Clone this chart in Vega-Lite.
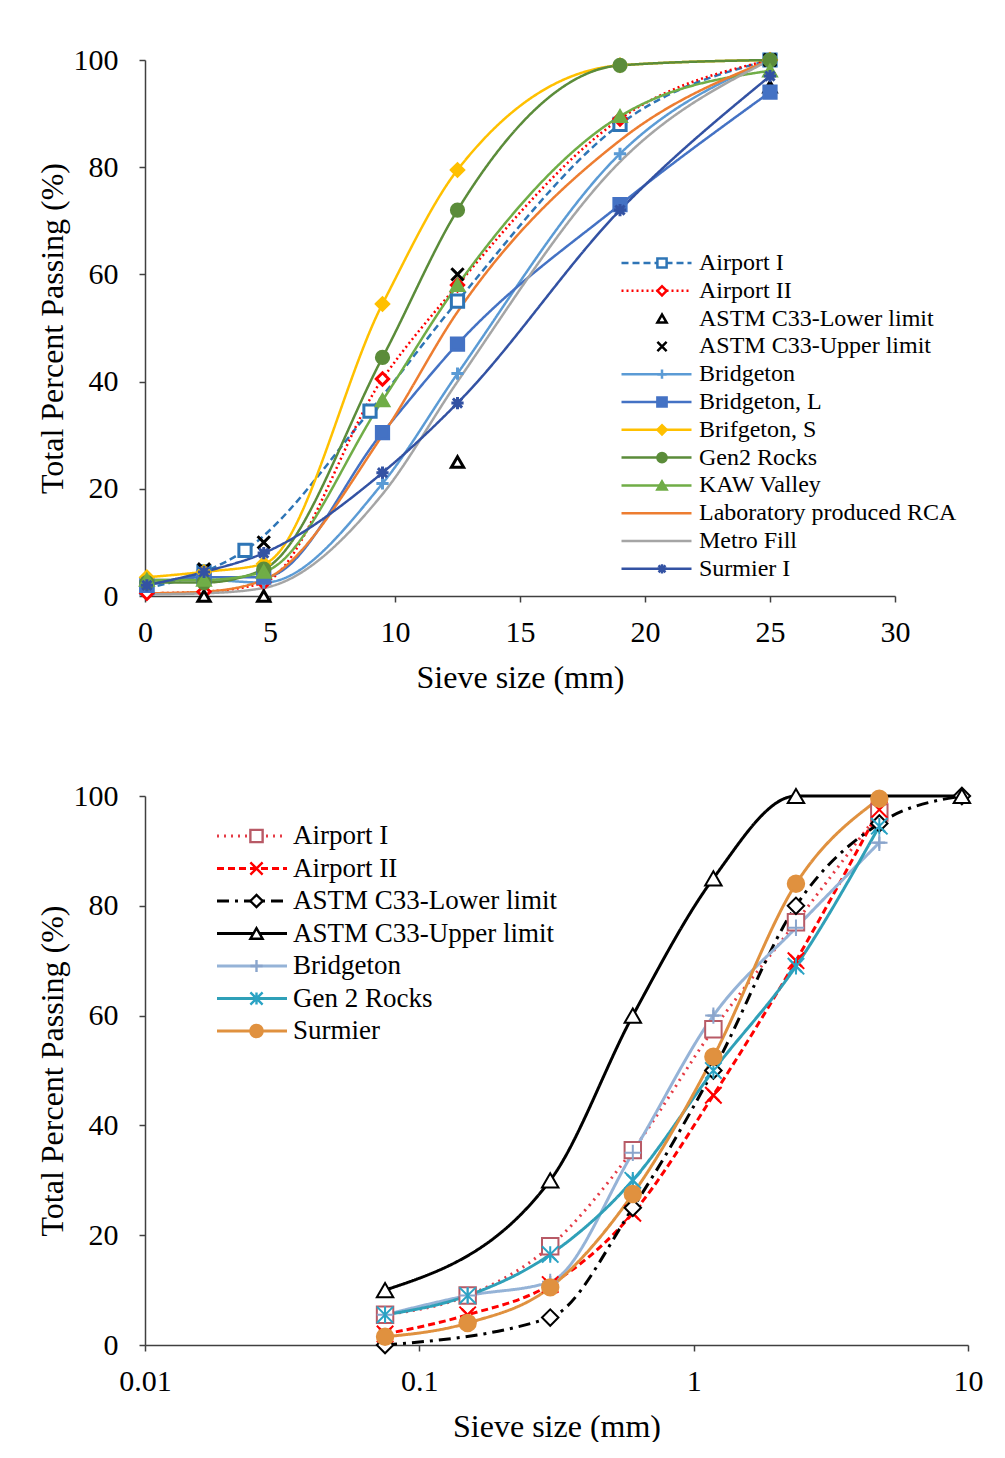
{
  "$schema": "https://vega.github.io/schema/vega-lite/v6.json",
  "background": "white",
  "padding": {"left": 36, "top": 45, "right": 0, "bottom": 0},
  "spacing": 88,
  "resolve": {"scale": {"color": "independent", "strokeDash": "independent", "shape": "independent", "fill": "independent", "stroke": "independent"}},
  "config": {
    "font": "Liberation Serif",
    "view": {"stroke": null},
    "axis": {"grid": false, "domainColor": "#404040", "domainWidth": 1.5, "tickColor": "#404040", "tickWidth": 1.5, "tickSize": 6, "labelFont": "Liberation Serif", "labelFontSize": 30, "labelColor": "#000", "titleFont": "Liberation Serif", "titleFontSize": 32, "titleFontWeight": "normal", "titleColor": "#000"},
    "axisX": {"labelPadding": 15, "titlePadding": 15, "labelFlush": false},
    "axisY": {"labelPadding": 21, "titlePadding": 4},
    "legend": {"labelFont": "Liberation Serif", "labelColor": "#000", "labelLimit": 500}
  },
  "vconcat": [
    {
      "width": 750,
      "height": 536,
      "data": {"name": "top"},
      "encoding": {
        "x": {"field": "size", "type": "quantitative", "scale": {"domain": [0, 30], "nice": false}, "axis": {"values": [0, 5, 10, 15, 20, 25, 30], "title": "Sieve size (mm)"}},
        "y": {"field": "pct", "type": "quantitative", "scale": {"domain": [0, 100], "nice": false}, "axis": {"values": [0, 20, 40, 60, 80, 100], "title": "Total Percent Passing (%)"}}
      },
      "layer": [
        {
          "mark": {"type": "line", "interpolate": "monotone", "strokeWidth": 2.5},
          "encoding": {
            "color": {"field": "series", "type": "nominal",
              "scale": {"domain": ["Airport I", "Airport II", "ASTM C33-Lower limit", "ASTM C33-Upper limit", "Bridgeton", "Bridgeton, L", "Brifgeton, S", "Gen2 Rocks", "KAW Valley", "Laboratory produced RCA", "Metro Fill", "Surmier I"],
                "range": ["#2E75B6", "#FF0000", "transparent", "transparent", "#5B9BD5", "#4472C4", "#FFC000", "#5B8C3A", "#70AD47", "#ED7D31", "#A5A5A5", "#3352A3"]},
              "legend": {"orient": "none", "legendX": 475, "legendY": 192, "title": null, "symbolType": "stroke", "symbolSize": 4900, "symbolStrokeWidth": 2.5, "labelFontSize": 24, "labelOffset": 6, "clipHeight": 22, "rowPadding": 3.8}},
            "strokeDash": {"field": "series", "type": "nominal",
              "scale": {"domain": ["Airport I", "Airport II", "ASTM C33-Lower limit", "ASTM C33-Upper limit", "Bridgeton", "Bridgeton, L", "Brifgeton, S", "Gen2 Rocks", "KAW Valley", "Laboratory produced RCA", "Metro Fill", "Surmier I"],
                "range": [[7, 4], [2, 3], [1, 0], [1, 0], [1, 0], [1, 0], [1, 0], [1, 0], [1, 0], [1, 0], [1, 0], [1, 0]]}}
          }
        },
        {
          "transform": [{"not": {"field": "series", "oneOf": ["ASTM C33-Lower limit", "ASTM C33-Upper limit"]}}],
          "mark": {"type": "point", "size": 85, "strokeWidth": 2.2, "opacity": 1},
          "encoding": {
            "shape": {"field": "series", "type": "nominal",
              "scale": {"domain": ["Airport I", "Airport II", "ASTM C33-Lower limit", "ASTM C33-Upper limit", "Bridgeton", "Bridgeton, L", "Brifgeton, S", "Gen2 Rocks", "KAW Valley", "Laboratory produced RCA", "Metro Fill", "Surmier I"],
                "range": ["square", "diamond", "triangle-up", "M-1,-1L1,1M1,-1L-1,1", "M-1,0H1M0,-1V1", "square", "diamond", "circle", "triangle-up", "circle", "circle", "M-1,0H1M0,-1V1M-0.75,-0.75L0.75,0.75M-0.75,0.75L0.75,-0.75"]},
              "legend": {"orient": "none", "legendX": 475, "legendY": 192, "title": null, "symbolSize": 85, "symbolStrokeWidth": 2.5, "labelFontSize": 24, "labelExpr": "''", "clipHeight": 22, "rowPadding": 3.8, "symbolOffset": 30}},
            "fill": {"field": "series", "type": "nominal",
              "scale": {"domain": ["Airport I", "Airport II", "ASTM C33-Lower limit", "ASTM C33-Upper limit", "Bridgeton", "Bridgeton, L", "Brifgeton, S", "Gen2 Rocks", "KAW Valley", "Laboratory produced RCA", "Metro Fill", "Surmier I"],
                "range": ["white", "white", "white", "transparent", "transparent", "#4472C4", "#FFC000", "#5B8C3A", "#70AD47", "transparent", "transparent", "transparent"]}},
            "stroke": {"field": "series", "type": "nominal",
              "scale": {"domain": ["Airport I", "Airport II", "ASTM C33-Lower limit", "ASTM C33-Upper limit", "Bridgeton", "Bridgeton, L", "Brifgeton, S", "Gen2 Rocks", "KAW Valley", "Laboratory produced RCA", "Metro Fill", "Surmier I"],
                "range": ["#2E75B6", "#FF0000", "#000000", "#000000", "#5B9BD5", "#4472C4", "#FFC000", "#5B8C3A", "#70AD47", "transparent", "transparent", "#3352A3"]}}
          }
        },
        {
          "transform": [{"field": "series", "oneOf": ["ASTM C33-Lower limit", "ASTM C33-Upper limit"]}],
          "mark": {"type": "point", "size": 150, "strokeWidth": 3, "opacity": 1},
          "encoding": {
            "shape": {"field": "series", "type": "nominal", "legend": null},
            "fill": {"field": "series", "type": "nominal", "legend": null},
            "stroke": {"field": "series", "type": "nominal", "legend": null}
          }
        }
      ],
      "resolve": {"legend": {"shape": "independent", "fill": "independent", "stroke": "independent"}}
    },
    {
      "width": 823,
      "height": 549,
      "data": {"name": "bottom"},
      "encoding": {
        "x": {"field": "size", "type": "quantitative", "scale": {"type": "log", "domain": [0.01, 10], "nice": false}, "axis": {"values": [0.01, 0.1, 1, 10], "format": "~g", "title": "Sieve size (mm)"}},
        "y": {"field": "pct", "type": "quantitative", "scale": {"domain": [0, 100], "nice": false}, "axis": {"values": [0, 20, 40, 60, 80, 100], "title": "Total Percent Passing (%)"}}
      },
      "layer": [
        {
          "mark": {"type": "line", "interpolate": "monotone", "strokeWidth": 3},
          "encoding": {
            "color": {"field": "series", "type": "nominal",
              "scale": {"domain": ["Airport I", "Airport II", "ASTM C33-Lower  limit", "ASTM C33-Upper limit", "Bridgeton", "Gen 2 Rocks", "Surmier"],
                "range": ["#E53B45", "#FF0000", "#000000", "#000000", "#95B3D7", "#2FA0B8", "#E0913F"]},
              "legend": {"orient": "none", "legendX": 70, "legendY": 27, "title": null, "symbolType": "stroke", "symbolSize": 4900, "symbolStrokeWidth": 3.2, "labelFontSize": 27, "labelOffset": 4, "clipHeight": 26, "rowPadding": 5.5}},
            "strokeDash": {"field": "series", "type": "nominal",
              "scale": {"domain": ["Airport I", "Airport II", "ASTM C33-Lower  limit", "ASTM C33-Upper limit", "Bridgeton", "Gen 2 Rocks", "Surmier"],
                "range": [[2, 5], [7, 4], [12, 6, 3, 6], [1, 0], [1, 0], [1, 0], [1, 0]]}}
          }
        },
        {
          "transform": [{"not": {"field": "series", "equal": "Surmier"}}],
          "mark": {"type": "point", "size": 140, "strokeWidth": 2.2, "opacity": 1},
          "encoding": {
            "shape": {"field": "series", "type": "nominal",
              "scale": {"domain": ["Airport I", "Airport II", "ASTM C33-Lower  limit", "ASTM C33-Upper limit", "Bridgeton", "Gen 2 Rocks", "Surmier"],
                "range": ["square", "M-1,-1L1,1M1,-1L-1,1", "diamond", "triangle-up", "M-1,0H1M0,-1V1", "M-1,-1L1,1M1,-1L-1,1M0,-1V1", "circle"]},
              "legend": {"orient": "none", "legendX": 70, "legendY": 27, "title": null, "symbolSize": 150, "symbolStrokeWidth": 2.4, "labelFontSize": 27, "labelExpr": "''", "clipHeight": 26, "rowPadding": 5.5, "symbolOffset": 28}},
            "fill": {"field": "series", "type": "nominal",
              "scale": {"domain": ["Airport I", "Airport II", "ASTM C33-Lower  limit", "ASTM C33-Upper limit", "Bridgeton", "Gen 2 Rocks", "Surmier"],
                "range": ["white", "transparent", "white", "white", "transparent", "transparent", "#E0913F"]}},
            "stroke": {"field": "series", "type": "nominal",
              "scale": {"domain": ["Airport I", "Airport II", "ASTM C33-Lower  limit", "ASTM C33-Upper limit", "Bridgeton", "Gen 2 Rocks", "Surmier"],
                "range": ["#B85A66", "#FF0000", "#000000", "#000000", "#8AA5CC", "#2BA3C4", "#E0913F"]}}
          }
        },
        {
          "transform": [{"field": "series", "equal": "Surmier"}],
          "mark": {"type": "point", "size": 270, "strokeWidth": 2, "opacity": 1},
          "encoding": {
            "shape": {"field": "series", "type": "nominal", "legend": null},
            "fill": {"field": "series", "type": "nominal", "legend": null},
            "stroke": {"field": "series", "type": "nominal", "legend": null}
          }
        }
      ],
      "resolve": {"legend": {"shape": "independent", "fill": "independent", "stroke": "independent"}}
    }
  ],
  "datasets": {
    "top": [
      {"series": "Airport I", "size": 0.075, "pct": 1.5},
      {"series": "Airport I", "size": 2.36, "pct": 4.5},
      {"series": "Airport I", "size": 4.0, "pct": 8.5},
      {"series": "Airport I", "size": 9.0, "pct": 34.5},
      {"series": "Airport I", "size": 12.5, "pct": 55},
      {"series": "Airport I", "size": 19, "pct": 88},
      {"series": "Airport I", "size": 25, "pct": 100},
      {"series": "Airport II", "size": 0.075, "pct": 0.5},
      {"series": "Airport II", "size": 2.36, "pct": 0.8},
      {"series": "Airport II", "size": 4.75, "pct": 2.5},
      {"series": "Airport II", "size": 9.5, "pct": 40.5},
      {"series": "Airport II", "size": 12.5, "pct": 58},
      {"series": "Airport II", "size": 19, "pct": 89},
      {"series": "Airport II", "size": 25, "pct": 100},
      {"series": "ASTM C33-Lower limit", "size": 2.36, "pct": 0},
      {"series": "ASTM C33-Lower limit", "size": 4.75, "pct": 0},
      {"series": "ASTM C33-Lower limit", "size": 12.5, "pct": 25},
      {"series": "ASTM C33-Lower limit", "size": 25, "pct": 95},
      {"series": "ASTM C33-Upper limit", "size": 2.36, "pct": 5},
      {"series": "ASTM C33-Upper limit", "size": 4.75, "pct": 10},
      {"series": "ASTM C33-Upper limit", "size": 12.5, "pct": 60},
      {"series": "ASTM C33-Upper limit", "size": 25, "pct": 100},
      {"series": "Bridgeton", "size": 0.075, "pct": 3},
      {"series": "Bridgeton", "size": 2.36, "pct": 3},
      {"series": "Bridgeton", "size": 4.75, "pct": 2.5},
      {"series": "Bridgeton", "size": 9.5, "pct": 21},
      {"series": "Bridgeton", "size": 12.5, "pct": 41.5},
      {"series": "Bridgeton", "size": 19, "pct": 82.5},
      {"series": "Bridgeton", "size": 25, "pct": 100},
      {"series": "Bridgeton, L", "size": 0.075, "pct": 2},
      {"series": "Bridgeton, L", "size": 2.36, "pct": 3.5},
      {"series": "Bridgeton, L", "size": 4.75, "pct": 3.5},
      {"series": "Bridgeton, L", "size": 9.5, "pct": 30.5},
      {"series": "Bridgeton, L", "size": 12.5, "pct": 47},
      {"series": "Bridgeton, L", "size": 19, "pct": 73},
      {"series": "Bridgeton, L", "size": 25, "pct": 94},
      {"series": "Brifgeton, S", "size": 0.075, "pct": 3.5},
      {"series": "Brifgeton, S", "size": 2.36, "pct": 4.5},
      {"series": "Brifgeton, S", "size": 4.75, "pct": 6},
      {"series": "Brifgeton, S", "size": 9.5, "pct": 54.5},
      {"series": "Brifgeton, S", "size": 12.5, "pct": 79.5},
      {"series": "Brifgeton, S", "size": 19, "pct": 99},
      {"series": "Brifgeton, S", "size": 25, "pct": 100},
      {"series": "Gen2 Rocks", "size": 0.075, "pct": 2.5},
      {"series": "Gen2 Rocks", "size": 2.36, "pct": 2.5},
      {"series": "Gen2 Rocks", "size": 4.75, "pct": 5},
      {"series": "Gen2 Rocks", "size": 9.5, "pct": 44.5},
      {"series": "Gen2 Rocks", "size": 12.5, "pct": 72},
      {"series": "Gen2 Rocks", "size": 19, "pct": 99},
      {"series": "Gen2 Rocks", "size": 25, "pct": 100},
      {"series": "KAW Valley", "size": 0.075, "pct": 3},
      {"series": "KAW Valley", "size": 2.36, "pct": 3},
      {"series": "KAW Valley", "size": 4.75, "pct": 4.5},
      {"series": "KAW Valley", "size": 9.5, "pct": 36.5},
      {"series": "KAW Valley", "size": 12.5, "pct": 58},
      {"series": "KAW Valley", "size": 19, "pct": 89.5},
      {"series": "KAW Valley", "size": 25, "pct": 98},
      {"series": "Laboratory produced RCA", "size": 0.075, "pct": 0.5},
      {"series": "Laboratory produced RCA", "size": 2.36, "pct": 0.8},
      {"series": "Laboratory produced RCA", "size": 4.75, "pct": 3},
      {"series": "Laboratory produced RCA", "size": 9.5, "pct": 30},
      {"series": "Laboratory produced RCA", "size": 12.5, "pct": 53},
      {"series": "Laboratory produced RCA", "size": 19, "pct": 85},
      {"series": "Laboratory produced RCA", "size": 25, "pct": 100},
      {"series": "Metro Fill", "size": 0.075, "pct": 0.3},
      {"series": "Metro Fill", "size": 2.36, "pct": 0.5},
      {"series": "Metro Fill", "size": 4.75, "pct": 1.5},
      {"series": "Metro Fill", "size": 9.5, "pct": 19},
      {"series": "Metro Fill", "size": 12.5, "pct": 40},
      {"series": "Metro Fill", "size": 19, "pct": 81},
      {"series": "Metro Fill", "size": 25, "pct": 100},
      {"series": "Surmier I", "size": 0.075, "pct": 2},
      {"series": "Surmier I", "size": 2.36, "pct": 4.5},
      {"series": "Surmier I", "size": 4.75, "pct": 8},
      {"series": "Surmier I", "size": 9.5, "pct": 23},
      {"series": "Surmier I", "size": 12.5, "pct": 36},
      {"series": "Surmier I", "size": 19, "pct": 72},
      {"series": "Surmier I", "size": 25, "pct": 97}
    ],
    "bottom": [
      {"series": "Airport I", "size": 0.075, "pct": 5.5},
      {"series": "Airport I", "size": 0.15, "pct": 9},
      {"series": "Airport I", "size": 0.3, "pct": 18},
      {"series": "Airport I", "size": 0.6, "pct": 35.5},
      {"series": "Airport I", "size": 1.18, "pct": 57.5},
      {"series": "Airport I", "size": 2.36, "pct": 77},
      {"series": "Airport I", "size": 4.75, "pct": 97},
      {"series": "Airport II", "size": 0.075, "pct": 2},
      {"series": "Airport II", "size": 0.15, "pct": 5.5},
      {"series": "Airport II", "size": 0.3, "pct": 11},
      {"series": "Airport II", "size": 0.6, "pct": 24},
      {"series": "Airport II", "size": 1.18, "pct": 45.5},
      {"series": "Airport II", "size": 2.36, "pct": 70},
      {"series": "Airport II", "size": 4.75, "pct": 97.5},
      {"series": "ASTM C33-Lower  limit", "size": 0.075, "pct": 0},
      {"series": "ASTM C33-Lower  limit", "size": 0.3, "pct": 5},
      {"series": "ASTM C33-Lower  limit", "size": 0.6, "pct": 25},
      {"series": "ASTM C33-Lower  limit", "size": 1.18, "pct": 50},
      {"series": "ASTM C33-Lower  limit", "size": 2.36, "pct": 80},
      {"series": "ASTM C33-Lower  limit", "size": 4.75, "pct": 95},
      {"series": "ASTM C33-Lower  limit", "size": 9.5, "pct": 100},
      {"series": "ASTM C33-Upper limit", "size": 0.075, "pct": 10},
      {"series": "ASTM C33-Upper limit", "size": 0.3, "pct": 30},
      {"series": "ASTM C33-Upper limit", "size": 0.6, "pct": 60},
      {"series": "ASTM C33-Upper limit", "size": 1.18, "pct": 85},
      {"series": "ASTM C33-Upper limit", "size": 2.36, "pct": 100},
      {"series": "ASTM C33-Upper limit", "size": 9.5, "pct": 100},
      {"series": "Bridgeton", "size": 0.075, "pct": 5.5},
      {"series": "Bridgeton", "size": 0.15, "pct": 9},
      {"series": "Bridgeton", "size": 0.3, "pct": 11.5},
      {"series": "Bridgeton", "size": 0.6, "pct": 35},
      {"series": "Bridgeton", "size": 1.18, "pct": 60},
      {"series": "Bridgeton", "size": 2.36, "pct": 76},
      {"series": "Bridgeton", "size": 4.75, "pct": 91.5},
      {"series": "Gen 2 Rocks", "size": 0.075, "pct": 5.5},
      {"series": "Gen 2 Rocks", "size": 0.15, "pct": 9},
      {"series": "Gen 2 Rocks", "size": 0.3, "pct": 16.5},
      {"series": "Gen 2 Rocks", "size": 0.6, "pct": 30},
      {"series": "Gen 2 Rocks", "size": 1.18, "pct": 50},
      {"series": "Gen 2 Rocks", "size": 2.36, "pct": 69},
      {"series": "Gen 2 Rocks", "size": 4.75, "pct": 94.5},
      {"series": "Surmier", "size": 0.075, "pct": 1.5},
      {"series": "Surmier", "size": 0.15, "pct": 4},
      {"series": "Surmier", "size": 0.3, "pct": 10.5},
      {"series": "Surmier", "size": 0.6, "pct": 27.5},
      {"series": "Surmier", "size": 1.18, "pct": 52.5},
      {"series": "Surmier", "size": 2.36, "pct": 84},
      {"series": "Surmier", "size": 4.75, "pct": 99.5}
    ]
  }
}
